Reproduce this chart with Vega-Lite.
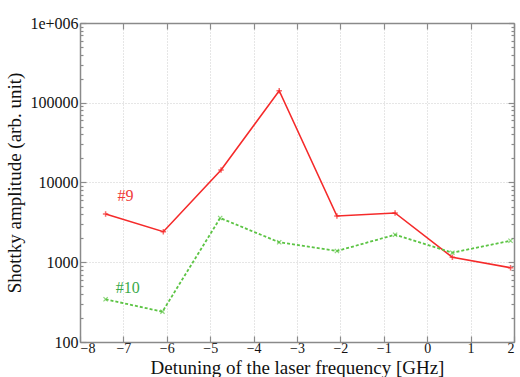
{
  "$schema": "https://vega.github.io/schema/vega-lite/v6.json",
  "width": 434,
  "height": 319,
  "autosize": "none",
  "padding": {"left": 80, "top": 23, "right": 6, "bottom": 35},
  "background": "white",
  "config": {
    "view": {"stroke": null},
    "font": "Liberation Serif",
    "axis": {
      "labelFont": "Liberation Serif",
      "titleFont": "Liberation Serif",
      "labelFontSize": 16,
      "titleFontSize": 19,
      "titleFontWeight": "normal",
      "labelColor": "#111",
      "titleColor": "#111",
      "domainColor": "#8a8a8a",
      "domainWidth": 1.5,
      "tickColor": "#8a8a8a",
      "tickWidth": 1.2,
      "gridColor": "#cccccc",
      "gridDash": [1, 2],
      "gridWidth": 1
    }
  },
  "datasets": {
    "series": [
      {"series": "#9", "x": -7.41, "y": 4030},
      {"series": "#9", "x": -6.08, "y": 2415},
      {"series": "#9", "x": -4.75, "y": 14350},
      {"series": "#9", "x": -3.41, "y": 141600},
      {"series": "#9", "x": -2.08, "y": 3800},
      {"series": "#9", "x": -0.74, "y": 4150},
      {"series": "#9", "x": 0.58, "y": 1153},
      {"series": "#9", "x": 1.92, "y": 855},
      {"series": "#10", "x": -7.41, "y": 343},
      {"series": "#10", "x": -6.1, "y": 240},
      {"series": "#10", "x": -4.77, "y": 3590},
      {"series": "#10", "x": -3.41, "y": 1780},
      {"series": "#10", "x": -2.08, "y": 1383},
      {"series": "#10", "x": -0.74, "y": 2214},
      {"series": "#10", "x": 0.58, "y": 1318},
      {"series": "#10", "x": 1.92, "y": 1863}
    ],
    "labels": [
      {"series": "#9", "label": "#9", "x": -6.95, "y": 6700},
      {"series": "#10", "label": "#10", "x": -6.9, "y": 470}
    ]
  },
  "resolve": {"axis": {"x": "independent", "y": "independent"}},
  "layer": [
    {
      "data": {"name": "series"},
      "transform": [{"filter": "datum.series == '#9'"}],
      "mark": {"type": "line", "color": "#f52a2a", "strokeWidth": 1.6},
      "encoding": {
        "x": {
          "field": "x", "type": "quantitative",
          "scale": {"domain": [-8, 2], "nice": false, "zero": false},
          "axis": {
            "orient": "bottom",
            "title": "Detuning of the laser frequency [GHz]",
            "values": [-8, -7, -6, -5, -4, -3, -2, -1, 0, 1, 2],
            "format": "d",
            "labelFont": "Liberation Serif",
            "labelFontSize": 14,
            "titleFont": "Liberation Serif",
            "titleFontSize": 19,
            "grid": true,
            "tickSize": -6,
            "labelPadding": 5,
            "titleBaseline": "alphabetic",
            "titleY": 31
          }
        },
        "y": {
          "field": "y", "type": "quantitative",
          "scale": {"type": "log", "domain": [100, 1000000], "nice": false},
          "axis": {
            "orient": "left",
            "title": "Shottky amplitude (arb. unit)",
            "labelFont": "Liberation Serif",
            "titleFont": "Liberation Serif",
            "values": [100, 200, 300, 400, 500, 600, 700, 800, 900, 1000, 2000, 3000, 4000, 5000, 6000, 7000, 8000, 9000, 10000, 20000, 30000, 40000, 50000, 60000, 70000, 80000, 90000, 100000, 200000, 300000, 400000, 500000, 600000, 700000, 800000, 900000, 1000000],
            "labelExpr": "abs(log(datum.value)/LN10 - round(log(datum.value)/LN10)) < 0.000001 ? (datum.value == 1000000 ? '1e+006' : format(datum.value, 'd')) : ''",
            "grid": true,
            "gridOpacity": {"condition": {"test": "abs(log(datum.value)/LN10 - round(log(datum.value)/LN10)) < 0.000001", "value": 1}, "value": 0},
            "tickSize": {"condition": {"test": "abs(log(datum.value)/LN10 - round(log(datum.value)/LN10)) < 0.000001", "value": -6}, "value": -3},
            "labelPadding": 8,
            "labelFlush": false,
            "titlePadding": 5
          }
        }
      }
    },
    {
      "data": {"name": "series"},
      "transform": [{"filter": "datum.series == '#10'"}],
      "mark": {"type": "line", "color": "#5cc444", "strokeWidth": 1.8, "strokeDash": [3, 2]},
      "encoding": {
        "x": {
          "field": "x", "type": "quantitative",
          "axis": {
            "orient": "top", "title": null, "labels": false, "grid": false,
            "values": [-8, -7, -6, -5, -4, -3, -2, -1, 0, 1, 2],
            "tickSize": -6
          }
        },
        "y": {
          "field": "y", "type": "quantitative",
          "axis": {
            "orient": "right", "title": null, "labels": false, "grid": false,
            "values": [100, 200, 300, 400, 500, 600, 700, 800, 900, 1000, 2000, 3000, 4000, 5000, 6000, 7000, 8000, 9000, 10000, 20000, 30000, 40000, 50000, 60000, 70000, 80000, 90000, 100000, 200000, 300000, 400000, 500000, 600000, 700000, 800000, 900000, 1000000],
            "tickSize": {"condition": {"test": "abs(log(datum.value)/LN10 - round(log(datum.value)/LN10)) < 0.000001", "value": -6}, "value": -3}
          }
        }
      }
    },
    {
      "data": {"name": "series"},
      "transform": [{"filter": "datum.series == '#9'"}],
      "mark": {"type": "point", "shape": "M-1,0L1,0M0,-1L0,1", "filled": false, "color": "#f52a2a", "strokeWidth": 1.5, "size": 30},
      "encoding": {
        "x": {"field": "x", "type": "quantitative", "axis": null},
        "y": {"field": "y", "type": "quantitative", "axis": null}
      }
    },
    {
      "data": {"name": "series"},
      "transform": [{"filter": "datum.series == '#10'"}],
      "mark": {"type": "point", "shape": "M-1,-1L1,1M-1,1L1,-1", "filled": false, "color": "#5cc444", "strokeWidth": 1.2, "size": 18},
      "encoding": {
        "x": {"field": "x", "type": "quantitative", "axis": null},
        "y": {"field": "y", "type": "quantitative", "axis": null}
      }
    },
    {
      "data": {"name": "labels"},
      "mark": {"type": "text", "font": "Liberation Serif", "fontSize": 16, "align": "center", "baseline": "middle"},
      "encoding": {
        "x": {"field": "x", "type": "quantitative", "axis": null},
        "y": {"field": "y", "type": "quantitative", "axis": null},
        "text": {"field": "label", "type": "nominal"},
        "color": {"field": "series", "type": "nominal", "scale": {"domain": ["#9", "#10"], "range": ["#f03a3a", "#3aaa4a"]}, "legend": null}
      }
    }
  ]
}
